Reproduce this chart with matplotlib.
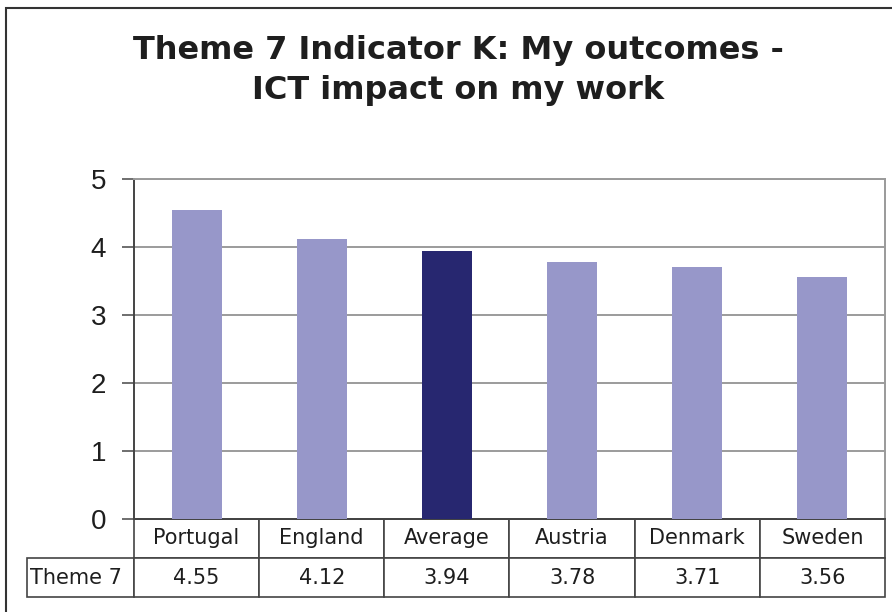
import matplotlib
matplotlib.use("Agg")
import matplotlib.pyplot as plt
from matplotlib.patches import Rectangle

categories = ["Portugal", "England", "Average", "Austria", "Denmark", "Sweden"]
values = [4.55, 4.12, 3.94, 3.78, 3.71, 3.56]
series_name = "Theme 7"
highlight = "Average"
yticks = [0, 1, 2, 3, 4, 5]

W, H = 892, 612
light = "#9797c9"
dark = "#272770"
text_col = "#1e1e1e"

plt.rcParams["font.family"] = ["Liberation Sans", "DejaVu Sans"]

fig = plt.figure(figsize=(W / 100, H / 100), dpi=100)

# outer chart frame (runs past right/bottom edge as in the source)
fig.patches.append(Rectangle((6 / W, -0.1), 1.2, (H - 8) / H + 0.1,
                             transform=fig.transFigure, fill=False,
                             edgecolor="#333333", lw=1.5))

title_font = dict(ha="center", va="center", fontsize=23, fontweight="bold",
                  color=text_col, family="DejaVu Sans")
fig.text(458 / W, (H - 51) / H, "Theme 7 Indicator K: My outcomes -", **title_font)
fig.text(458 / W, (H - 91) / H, "ICT impact on my work", **title_font)

left, right, top, bottom = 134, 885, 179, 519
ax = fig.add_axes([left / W, (H - bottom) / H, (right - left) / W, (bottom - top) / H])

colors = [dark if c == highlight else light for c in categories]
ax.bar(range(len(categories)), values, width=0.4, color=colors, zorder=3)
ax.set_xlim(-0.5, len(categories) - 0.5)
ax.set_ylim(0, 5)
ax.set_yticks(yticks)
ax.set_yticklabels([str(t) for t in yticks], fontsize=20, color=text_col)
ax.set_xticks([])
ax.yaxis.grid(True, color="#8a8a8a", lw=1.2, zorder=0)
ax.tick_params(axis="y", length=9, width=1.2, color="#555555", pad=11)

for s in ["left", "bottom"]:
    ax.spines[s].set_color("#444444")
    ax.spines[s].set_linewidth(1.4)
for s in ["top", "right"]:
    ax.spines[s].set_color("#9a9a9a")
    ax.spines[s].set_linewidth(1.4)

# data table under the axis
row_h = (597 - bottom) / (bottom - top)
lab_w = left - 27
col_w = (right - left) / len(categories)
widths = [lab_w] + [col_w] * len(categories)
total = sum(widths)
cell_text = [[""] + categories,
             [series_name] + [f"{v:.2f}" for v in values]]
tbl = ax.table(cellText=cell_text, colWidths=[w / total for w in widths],
               cellLoc="center",
               bbox=[-lab_w / (right - left), -row_h, total / (right - left), row_h])
tbl.auto_set_font_size(False)
for (r, c), cell in tbl.get_celld().items():
    cell.set_fontsize(15)
    cell.set_edgecolor("#444444")
    cell.set_linewidth(1.2)
    cell.get_text().set_color(text_col)
    cell.get_text().set_family("DejaVu Sans")
    if r == 0 and c == 0:
        cell.visible_edges = ""
    if c == 0 and r == 1:
        cell.get_text().set_horizontalalignment("left")
        cell.PAD = 0.03
tbl.set_clip_on(False)

fig.savefig("out.png", dpi=100)
